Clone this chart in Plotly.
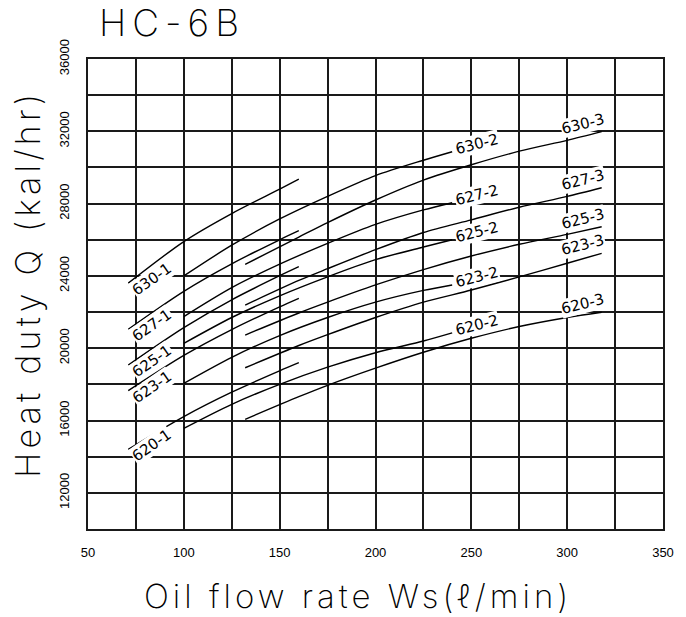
import plotly.graph_objects as go

# ---------------- data ----------------
models = ["630", "627", "625", "623", "620"]

W1 = [71, 100, 125, 150, 160]
Q1 = {
    "630": [23600, 25900, 27450, 28800, 29350],
    "627": [21050, 23150, 24670, 26000, 26500],
    "625": [19070, 21140, 22680, 24010, 24510],
    "623": [17650, 19600, 21030, 22290, 22760],
    "620": [14410, 16220, 17570, 18750, 19200],
}

W2 = [100, 125, 150, 175, 200, 225, 240]
Q2 = {
    "630": [24000, 25700, 27150, 28400, 29550, 30400, 30870],
    "627": [21750, 23350, 24650, 25800, 26850, 27650, 28050],
    "625": [20270, 21700, 22900, 23950, 24900, 25600, 26000],
    "623": [18060, 19500, 20700, 21700, 22550, 23200, 23500],
    "620": [15570, 16900, 18000, 18950, 19750, 20400, 20850],
}

W3 = [132, 160, 175, 200, 225, 250, 275, 300, 318]
Q3 = {
    "630": [24640, 26150, 26950, 28200, 29300, 30150, 30900, 31500, 31980],
    "627": [22390, 23750, 24400, 25450, 26400, 27100, 27800, 28400, 28880],
    "625": [20730, 21950, 22550, 23500, 24350, 25100, 25750, 26300, 26720],
    "623": [18920, 20150, 20750, 21700, 22550, 23220, 23950, 24700, 25250],
    "620": [16070, 17320, 17950, 18900, 19780, 20550, 21200, 21700, 21990],
}

x_grid = [50, 75, 100, 125, 150, 175, 200, 225, 250, 275, 300, 325, 350]
x_ticktext = ["50", "", "100", "", "150", "", "200", "", "250", "", "300", "", "350"]
y_grid = [10000, 12000, 14000, 16000, 18000, 20000, 22000, 24000, 26000,
          28000, 30000, 32000, 34000, 36000]
y_ticktext = ["", "12000", "", "16000", "", "20000", "", "24000", "", "28000",
              "", "32000", "", "36000"]

title_text = "HC-6B"
x_title = "Oil flow rate Ws(\u2113/min)"
y_title = "Heat duty Q (kal/hr)"

# ---------------- figure ----------------
fig = go.Figure()
line_style = dict(color="black", width=1.4, shape="spline", smoothing=0.8)

series = [("1", W1, Q1), ("2", W2, Q2), ("3", W3, Q3)]
for suffix, W, Q in series:
    for m in models:
        fig.add_trace(go.Scatter(x=W, y=Q[m], mode="lines", line=line_style,
                                 hoverinfo="skip", showlegend=False))

lab_font = dict(family="DejaVu Sans", size=15, color="black")
ann = []
for m in models:
    # -1 labels: at the start of the curve, rotated along it, just below it
    ann.append(dict(x=W1[0], y=Q1[m][0], xref="x", yref="y", text=f"{m}-1",
                    showarrow=False, textangle=-35, font=lab_font,
                    bgcolor="white", borderpad=0, xanchor="center",
                    yanchor="middle", xshift=24, yshift=4))
    # -2 labels: at the end of the curve
    ann.append(dict(x=W2[-1], y=Q2[m][-1], xref="x", yref="y", text=f"{m}-2",
                    showarrow=False, textangle=-14, font=lab_font,
                    bgcolor="white", borderpad=0, xanchor="center",
                    yanchor="middle", xshift=25, yshift=8))
    # -3 labels: above the end of the curve
    ann.append(dict(x=W3[-1], y=Q3[m][-1], xref="x", yref="y", text=f"{m}-3",
                    showarrow=False, textangle=-14, font=lab_font,
                    bgcolor="white", borderpad=0, xanchor="center",
                    yanchor="middle", xshift=-19, yshift=8))


def spaced(t, px):
    return f'<span style="letter-spacing:{px}px">{t}</span>'


big_font = dict(family="Inter", size=33, color="black", weight=200)
ann.append(dict(x=0.0155, y=1.077, xref="paper", yref="paper",
                text=spaced(title_text, 6),
                showarrow=False, xanchor="left", yanchor="middle",
                font=dict(family="Inter", size=37, color="black", weight=200)))
ann.append(dict(x=0.469, y=-0.142, xref="paper", yref="paper",
                text=spaced(x_title, 4),
                showarrow=False, xanchor="center", yanchor="middle", font=big_font))
ann.append(dict(x=-0.105, y=0.521, xref="paper", yref="paper",
                text=spaced(y_title, 4.2),
                showarrow=False, xanchor="center", yanchor="middle",
                textangle=-90, font=dict(family="Inter", size=34, color="black", weight=200)))

tick_font = dict(family="Liberation Sans", size=13, color="black")
grid_col = "#1a1a1a"
fig.update_layout(
    width=686, height=617,
    margin=dict(l=88, r=18, t=59, b=88),
    paper_bgcolor="white", plot_bgcolor="white",
    annotations=ann,
    xaxis=dict(range=[50, 350], tickmode="array", tickvals=x_grid,
               ticktext=x_ticktext, showgrid=True, gridcolor=grid_col,
               gridwidth=2, zeroline=False, showline=True, linecolor=grid_col,
               linewidth=2, mirror=True, ticks="", tickfont=tick_font,
               ticklabelstandoff=10),
    yaxis=dict(range=[10000, 36000], tickmode="array", tickvals=y_grid,
               ticktext=y_ticktext, showgrid=True, gridcolor=grid_col,
               gridwidth=2, zeroline=False, showline=True, linecolor=grid_col,
               linewidth=2, mirror=True, ticks="", tickfont=tick_font,
               tickangle=-90, ticklabelstandoff=12),
)

fig.write_html(
    "out.html",
    config={"displayModeBar": False, "staticPlot": True},
    post_script="document.body.style.margin='0';document.body.style.overflow='hidden';",
)
